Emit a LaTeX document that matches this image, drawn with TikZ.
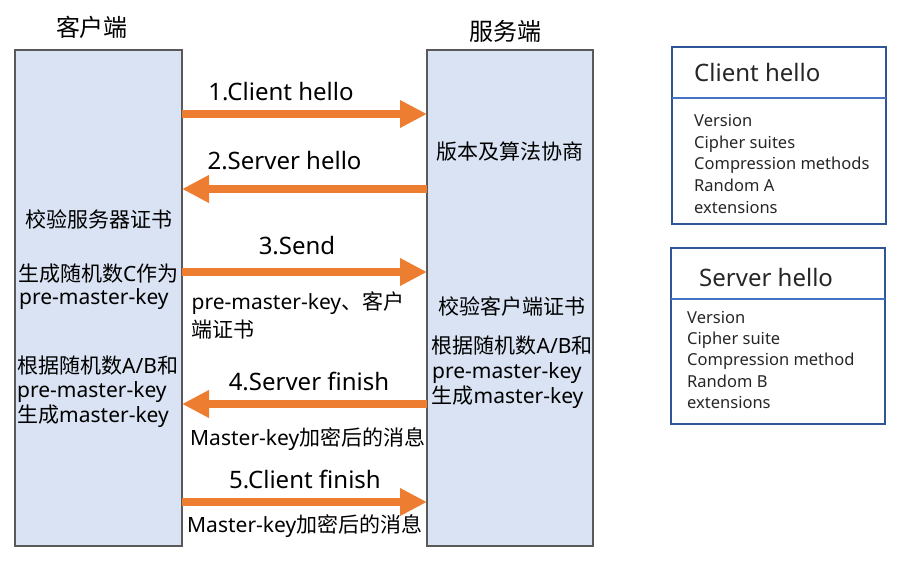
\documentclass[tikz,border=0pt]{standalone}
\usepackage{fontspec}
\setmainfont{Noto Sans}
\newfontfamily\cjk{Noto Sans CJK SC}
\usetikzlibrary{arrows.meta}
\definecolor{colfill}{HTML}{DAE3F3}
\definecolor{colborder}{HTML}{595959}
\definecolor{arrorange}{HTML}{ED7D31}
\definecolor{boxblue}{HTML}{2F5597}
\definecolor{divblue}{HTML}{4472C4}
\definecolor{itemtext}{HTML}{262626}
\begin{document}
\begin{tikzpicture}[x=1pt,y=-1pt,
  col/.style={draw=colborder, line width=2pt, fill=colfill, inner sep=0pt, outer sep=0pt},
  hbox/.style={draw=boxblue, line width=2pt, inner sep=0pt, outer sep=0pt},
  msg/.style={draw=arrorange, line width=8pt, -{Triangle[length=27pt,width=26pt]}},
  lbl/.style={font=\fontsize{24}{28}\selectfont, anchor=base, inner sep=0pt},
  body/.style={font=\fontsize{21}{25}\selectfont, anchor=base west, inner sep=0pt},
  bodyc/.style={font=\fontsize{21}{25}\selectfont, anchor=base, inner sep=0pt},
  item/.style={font=\fontsize{16.5}{21}\selectfont, anchor=base west, inner sep=0pt, text=itemtext},
  htitle/.style={font=\fontsize{24}{28}\selectfont, anchor=base west, inner sep=0pt, text=itemtext}
]
\useasboundingbox (0,0) rectangle (900,564);

% columns
\node[col, minimum width=167pt, minimum height=495.5pt] (client) at (98.5,298.25) {};
\node[col, minimum width=166pt, minimum height=495pt] (server) at (510,298) {};
\node[lbl] (ctitle) at (92,37) {\cjk 客户端};
\node[lbl] (stitle) at (505,41) {\cjk 服务端};

% arrow heights
\coordinate (y1) at (0,114);
\coordinate (y2) at (0,189);
\coordinate (y3) at (0,272);
\coordinate (y4) at (0,404);
\coordinate (y5) at (0,502);
\draw[msg] (client.east |- y1) -- (server.west |- y1);
\draw[msg] (server.west |- y2) -- (client.east |- y2);
\draw[msg] (client.east |- y3) -- (server.west |- y3);
\draw[msg] (server.west |- y4) -- (client.east |- y4);
\draw[msg] (client.east |- y5) -- (server.west |- y5);

% arrow labels
\node[lbl] (l1) at (281,100.5) {1.Client hello};
\node[lbl] (l2) at (284.5,169.5) {2.Server hello};
\node[lbl] (l3) at (297,255) {3.Send};
\node[lbl] (l4) at (309,390.5) {4.Server finish};
\node[lbl] (l5) at (305,488) {5.Client finish};

\node[body] (m3a) at (191.5,309) {pre-master-key{\cjk 、客户}};
\node[body] (m3b) at (191.5,337) {\cjk 端证书};
\node[body] (m4) at (190,445) {Master-key{\cjk 加密后的消息}};
\node[body] (m5) at (187,532) {Master-key{\cjk 加密后的消息}};

% client column text
\node[bodyc] (c1) at (99,228) {\cjk 校验服务器证书};
\node[body] (c2) at (18,282) {{\cjk 生成随机数}C{\cjk 作为}};
\node[body] (c3) at (19,305) {pre-master-key};
\node[body] (c4) at (17,373) {{\cjk 根据随机数}A/B{\cjk 和}};
\node[body] (c5) at (17,397.5) {pre-master-key};
\node[body] (c6) at (17,422) {{\cjk 生成}master-key};

% server column text
\node[bodyc] (s1) at (510,160) {\cjk 版本及算法协商};
\node[bodyc] (s2) at (512,315) {\cjk 校验客户端证书};
\node[body] (s3) at (431.5,353) {{\cjk 根据随机数}A/B{\cjk 和}};
\node[body] (s4) at (432,378) {pre-master-key};
\node[body] (s5) at (431.5,403) {{\cjk 生成}master-key};

% Client hello box
\node[hbox, minimum width=214pt, minimum height=177pt, anchor=north west] (chbox) at (672,47) {};
\coordinate (dv1) at (0,98);
\draw[divblue, line width=1.5pt] (chbox.west |- dv1) -- (chbox.east |- dv1);
\node[htitle] (cht) at (694,82) {Client hello};
\node[item] (ch1) at (694,126.7) {Version};
\node[item] (ch2) at (694,148.3) {Cipher suites};
\node[item] (ch3) at (694,169.9) {Compression methods};
\node[item] (ch4) at (694,191.5) {Random A};
\node[item] (ch5) at (694,213.1) {extensions};

% Server hello box
\node[hbox, minimum width=214pt, minimum height=176pt, anchor=north west] (shbox) at (671,248) {};
\coordinate (dv2) at (0,299);
\draw[divblue, line width=1.5pt] (shbox.west |- dv2) -- (shbox.east |- dv2);
\node[htitle] (sht) at (699,287) {Server hello};
\node[item] (sh1) at (687,323.3) {Version};
\node[item] (sh2) at (687,344.5) {Cipher suite};
\node[item] (sh3) at (687,365.8) {Compression method};
\node[item] (sh4) at (687,387) {Random B};
\node[item] (sh5) at (687,408.3) {extensions};
\end{tikzpicture}
\end{document}
